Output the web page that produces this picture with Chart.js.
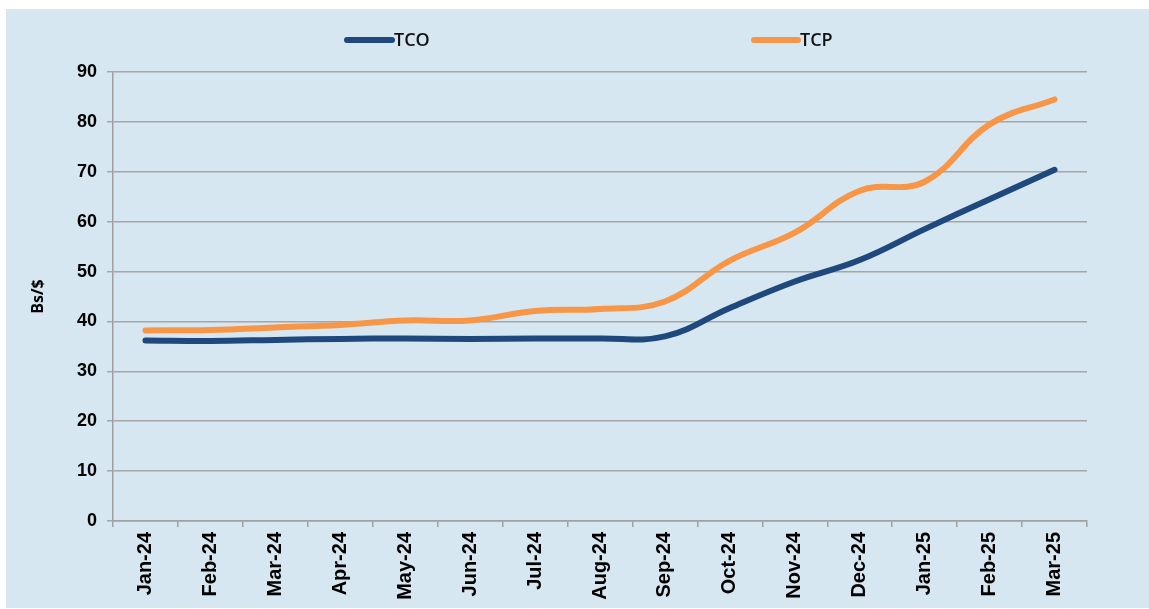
<!DOCTYPE html>
<html>
<head>
<meta charset="utf-8">
<script src="https://cdn.jsdelivr.net/npm/chart.js@4.4.1/dist/chart.umd.min.js"></script>
<style>
  html, body { margin: 0; padding: 0; background: #ffffff; }
  #wrap { position: absolute; left: 6px; top: 9px; width: 1143px; height: 599px; background: #d7e7f1; }
  canvas { display: block; }
</style>
</head>
<body>
<div id="wrap"><canvas id="c" width="1143" height="599"></canvas></div>
<script>
const categories = ["Jan-24","Feb-24","Mar-24","Apr-24","May-24","Jun-24","Jul-24","Aug-24","Sep-24","Oct-24","Nov-24","Dec-24","Jan-25","Feb-25","Mar-25"];
const tcoValues = [36.2, 36.1, 36.3, 36.5, 36.6, 36.5, 36.6, 36.6, 37.0, 42.7, 48.0, 52.3, 58.5, 64.5, 70.4];
const tcpValues = [38.2, 38.3, 38.8, 39.3, 40.2, 40.2, 42.1, 42.5, 44.0, 52.2, 57.8, 66.2, 68.0, 79.5, 84.5];
const seriesNames = ["TCO", "TCP"];
const seriesColors = ["#1f497d", "#f79646"];
const yTitle = "Bs/$";

const legendPos = [{line: [341, 386], text: 388, y: 31}, {line: [748, 792], text: 794, y: 31}];

const customLegend = {
  id: 'customLegend',
  afterDraw(chart) {
    const ctx = chart.ctx;
    chart.data.datasets.forEach((ds, i) => {
      const p = legendPos[i];
      ctx.save();
      ctx.strokeStyle = ds.borderColor;
      ctx.lineWidth = 6;
      ctx.lineCap = 'round';
      ctx.beginPath();
      ctx.moveTo(p.line[0], p.y);
      ctx.lineTo(p.line[1], p.y);
      ctx.stroke();
      ctx.fillStyle = '#111111';
      ctx.font = '600 18px "Open Sans", sans-serif';
      ctx.textAlign = 'left';
      ctx.textBaseline = 'middle';
      ctx.fillText(ds.label, p.text, p.y + 1);
      ctx.restore();
    });
  }
};

new Chart(document.getElementById('c'), {
  type: 'line',
  data: {
    labels: categories,
    datasets: [
      { label: seriesNames[0], data: tcoValues, borderColor: seriesColors[0], backgroundColor: seriesColors[0], borderWidth: 6, pointRadius: 0, tension: 0.4, borderCapStyle: 'round' },
      { label: seriesNames[1], data: tcpValues, borderColor: seriesColors[1], backgroundColor: seriesColors[1], borderWidth: 6, pointRadius: 0, tension: 0.4, borderCapStyle: 'round' }
    ]
  },
  options: {
    responsive: false,
    animation: false,
    layout: { padding: { top: 63, right: 62, left: 0, bottom: 0 } },
    plugins: { legend: { display: false }, tooltip: { enabled: false } },
    scales: {
      x: {
        offset: true,
        afterFit(s) { s.height = 87; },
        grid: { display: true, drawOnChartArea: false, drawTicks: true, tickLength: 6, color: '#a0a0a0', lineWidth: 1.5, offset: true },
        border: { display: true, color: '#a0a0a0', width: 1.5 },
        ticks: { minRotation: 90, maxRotation: 90, padding: 5, color: '#000000', font: { family: '"Liberation Sans", Arial, sans-serif', size: 20, weight: 'bold' } }
      },
      y: {
        min: 0, max: 90,
        afterFit(s) { s.width = 107; },
        grid: { color: '#a6a6a6', lineWidth: 1.5, tickLength: 6 },
        border: { display: true, color: '#a0a0a0', width: 1.5 },
        ticks: { stepSize: 10, padding: 10, color: '#000000', font: { family: '"Liberation Sans", Arial, sans-serif', size: 18, weight: 'bold' } },
        title: { display: true, text: yTitle, color: '#000000', padding: { top: 23, bottom: 0 }, font: { family: '"Open Sans", sans-serif', size: 16, weight: '700' } }
      }
    }
  },
  plugins: [customLegend]
});
</script>
</body>
</html>
